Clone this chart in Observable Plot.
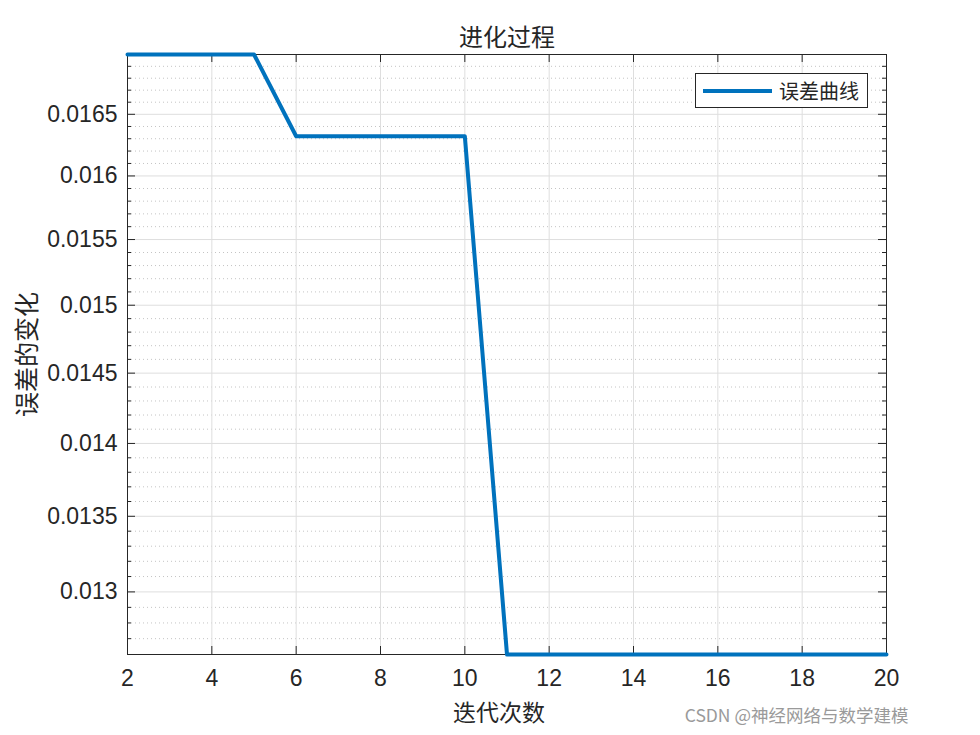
<!DOCTYPE html>
<html>
<head>
<meta charset="utf-8">
<script src="https://cdn.jsdelivr.net/npm/d3@7"></script>
<script src="https://cdn.jsdelivr.net/npm/@observablehq/plot@0.6"></script>
<style>
  html, body { margin: 0; padding: 0; background: #fff; }
  #wrap { position: relative; width: 980px; height: 735px; }
  #legend {
    position: absolute; left: 695px; top: 73px; width: 171px; height: 33px;
    border: 1px solid #262626; background: #fff; box-sizing: content-box;
    display: flex; align-items: center;
    font-family: "Noto Sans CJK SC", sans-serif; font-size: 20px; color: #262626;
  }
  #legend .swatch { width: 69px; height: 4px; background: #0072BD; margin: 0 7px 0 7px; }
</style>
</head>
<body>
<div id="wrap">
  <div id="chart"></div>
  <div id="legend"><span class="swatch"></span><span>误差曲线</span></div>
</div>
<script>
// Iteration number and the error recorded at each iteration
const iterations = [2, 3, 4, 5, 6, 7, 8, 9, 10, 11, 12, 13, 14, 15, 16, 17, 18, 19, 20];
const errors = [
  0.0170, 0.0170, 0.0170, 0.0170,
  0.01632, 0.01632, 0.01632, 0.01632, 0.01632,
  0.0126, 0.0126, 0.0126, 0.0126, 0.0126, 0.0126, 0.0126, 0.0126, 0.0126, 0.0126
];

// Axis ticks
const xTicks = [2, 4, 6, 8, 10, 12, 14, 16, 18, 20];
const yTicks = [0.013, 0.0135, 0.014, 0.0145, 0.015, 0.0155, 0.016, 0.0165];
const yMinor = d3.range(126, 171).filter(d => d % 5 !== 0).map(d => d / 10000);

const data = iterations.map((it, i) => ({it, err: errors[i]}));

const W = 980, H = 735;
const mL = 127, mR = 94, mT = 54, mB = 81;
const pw = W - mL - mR, ph = H - mT - mB;
const ink = "#262626";
const cjk = "'Noto Sans CJK SC', sans-serif";
const num = "'Liberation Sans', Arial, sans-serif";

const chart = Plot.plot({
  width: W,
  height: H,
  marginLeft: mL,
  marginRight: mR,
  marginTop: mT,
  marginBottom: mB,
  style: {background: "#fff", color: ink, fontFamily: num},
  x: {domain: d3.extent(iterations), ticks: xTicks},
  y: {type: "log", domain: d3.extent(errors), ticks: yTicks},
  marks: [
    // grid
    Plot.ruleY(yMinor, {y: d => d, stroke: "#c4c4c4", strokeDasharray: "1,3"}),
    Plot.ruleY(yTicks, {y: d => d, stroke: "#dedede"}),
    Plot.ruleX(xTicks, {x: d => d, stroke: "#dedede"}),
    // box
    Plot.frame({stroke: ink, strokeWidth: 1}),
    // inward ticks on all four sides
    Plot.tickY(yTicks, {y: d => d, stroke: ink, insetRight: pw - 8}),
    Plot.tickY(yTicks, {y: d => d, stroke: ink, insetLeft: pw - 8}),
    Plot.tickY(yMinor, {y: d => d, stroke: ink, insetRight: pw - 4}),
    Plot.tickY(yMinor, {y: d => d, stroke: ink, insetLeft: pw - 4}),
    Plot.tickX(xTicks, {x: d => d, stroke: ink, insetTop: ph - 8}),
    Plot.tickX(xTicks, {x: d => d, stroke: ink, insetBottom: ph - 8}),
    // axis labels
    Plot.axisY(yTicks, {
      tickSize: 0, tickPadding: 10, label: null, fontSize: 23,
      fill: ink, tickFormat: d => String(+d.toFixed(4))
    }),
    Plot.axisX(xTicks, {tickSize: 0, tickPadding: 15, label: null, fontSize: 23, fill: ink}),
    // error curve
    Plot.line(data, {x: "it", y: "err", stroke: "#0072BD", strokeWidth: 4}),
    // titles
    Plot.text(["进化过程"], {frameAnchor: "top", dy: -16, fontSize: 24, fontFamily: cjk, fill: ink, lineAnchor: "middle"}),
    Plot.text(["迭代次数"], {frameAnchor: "bottom", dy: 59, dx: -8, fontSize: 23, fontFamily: cjk, fill: ink, lineAnchor: "middle"}),
    Plot.text(["误差的变化"], {
      frameAnchor: "left", dx: -100, rotate: -90, textAnchor: "middle",
      fontSize: 25, fontFamily: cjk, fill: ink, lineAnchor: "middle"
    }),
    Plot.text(["CSDN @神经网络与数学建模"], {
      frameAnchor: "bottom-right", dx: 22, dy: 62, textAnchor: "end",
      fontSize: 17.5, fontFamily: cjk, fill: "#9a9a9a", lineAnchor: "middle"
    })
  ]
});

document.getElementById("chart").appendChild(chart);
</script>
</body>
</html>
